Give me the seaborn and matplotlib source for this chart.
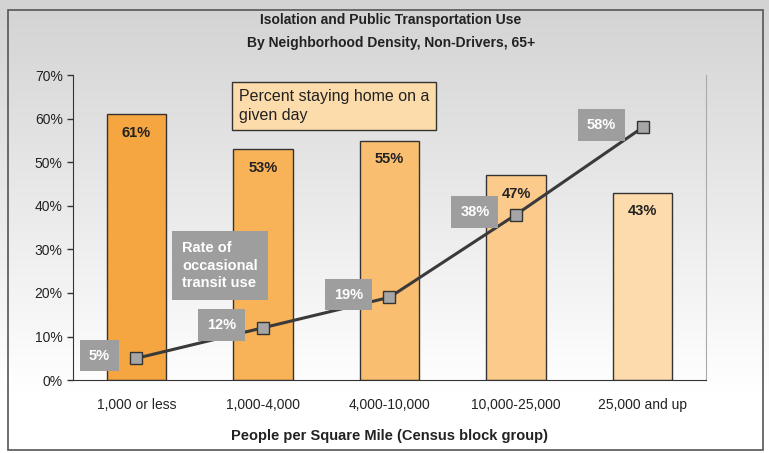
import numpy as np
import pandas as pd
import matplotlib
matplotlib.use("Agg")
import matplotlib.pyplot as plt
import seaborn as sns
from matplotlib.patches import Rectangle
from matplotlib.ticker import FixedLocator, PercentFormatter

categories = ["1,000 or less", "1,000-4,000", "4,000-10,000", "10,000-25,000", "25,000 and up"]
stay_home = [61, 53, 55, 47, 43]
transit_use = [5, 12, 19, 38, 58]
bar_colors = ["#F6A640", "#F8B258", "#FABE70", "#FCCB8C", "#FDDBAC"]

df = pd.DataFrame({"density": categories, "home": stay_home, "transit": transit_use})

sns.set_style("white")
plt.rcParams["font.family"] = ["Liberation Sans", "DejaVu Sans"]

fig = plt.figure(figsize=(7.69, 4.53), dpi=100)

# figure background: grey at top fading to white
bg = fig.add_axes([0, 0, 1, 1], zorder=-5)
grad = np.linspace(0, 1, 256).reshape(-1, 1)
grad = np.clip(grad * 1.15, 0, 1)
bg.imshow(grad, aspect="auto", cmap=matplotlib.colors.LinearSegmentedColormap.from_list(
    "g", ["#D3D3D3", "#FFFFFF"]), extent=[0, 1, 0, 1], origin="upper")
bg.add_patch(Rectangle((0.010, 0.006), 0.982, 0.972, fill=False, ec="#555555", lw=1.2,
                       transform=bg.transAxes))
bg.set_axis_off()

ax = fig.add_axes([0.095, 0.161, 0.823, 0.673])
ax.set_facecolor("none")

sns.barplot(data=df, x="density", y="home", hue="density", palette=bar_colors,
            saturation=1, legend=False, width=0.47, edgecolor="#333333", linewidth=1.0,
            ax=ax, zorder=2)
sns.pointplot(data=df, x="density", y="transit", color="#3A3A3A", markers="s",
              markersize=8, linewidth=2.2, markerfacecolor="#A6A6A6",
              markeredgecolor="#333333", markeredgewidth=1.0, ax=ax, zorder=4)

for i, v in enumerate(stay_home):
    ax.text(i, v - 2.6, f"{v}%", ha="center", va="top", fontsize=10.5,
            fontweight="bold", color="#222222", zorder=5)

for i, v in enumerate(transit_use):
    ax.text(i - 0.21, v + 0.6, f"{v}%", ha="right", va="center", fontsize=10.5,
            fontweight="bold", color="white", zorder=6,
            bbox=dict(boxstyle="square,pad=0.6", fc="#9E9E9E", ec="none"))

ax.text(0.262, 0.955, "Percent staying home on a\ngiven day", transform=ax.transAxes,
        ha="left", va="top", fontsize=11.5, color="#222222", linespacing=1.3, zorder=6,
        bbox=dict(boxstyle="square,pad=0.45", fc="#FDDCAC", ec="#333333", lw=1.0))
ax.text(0.172, 0.455, "Rate of\noccasional\ntransit use", transform=ax.transAxes,
        ha="left", va="top", fontsize=10.5, fontweight="bold", color="white",
        linespacing=1.3, zorder=6,
        bbox=dict(boxstyle="square,pad=0.7", fc="#9E9E9E", ec="none"))

ax.set_ylim(0, 70)
ax.set_xlim(-0.5, 4.5)
ax.yaxis.set_major_locator(FixedLocator(range(0, 71, 10)))
ax.yaxis.set_major_formatter(PercentFormatter(decimals=0))
ax.xaxis.set_minor_locator(FixedLocator(np.arange(-0.5, 5, 1)))
ax.tick_params(axis="x", which="major", length=0, pad=13, labelsize=10, colors="#222222")
ax.tick_params(axis="x", which="minor", length=5, width=1, color="#333333", direction="out")
ax.tick_params(axis="y", length=4, width=1, color="#333333", labelsize=10,
               colors="#222222", left=True)
ax.spines["top"].set_visible(False)
ax.spines["right"].set_color("#AAAAAA")
ax.spines["left"].set_color("#333333")
ax.spines["bottom"].set_color("#333333")
ax.set_ylabel("")
ax.set_xlabel("People per Square Mile (Census block group)", fontsize=10.5,
              fontweight="bold", labelpad=12, color="#222222")

fig.text(0.508, 0.955, "Isolation and Public Transportation Use", ha="center", va="center",
         fontsize=10, fontweight="bold", color="#222222")
fig.text(0.508, 0.905, "By Neighborhood Density, Non-Drivers, 65+", ha="center", va="center",
         fontsize=10, fontweight="bold", color="#222222")

fig.savefig("out.png", dpi=100)
